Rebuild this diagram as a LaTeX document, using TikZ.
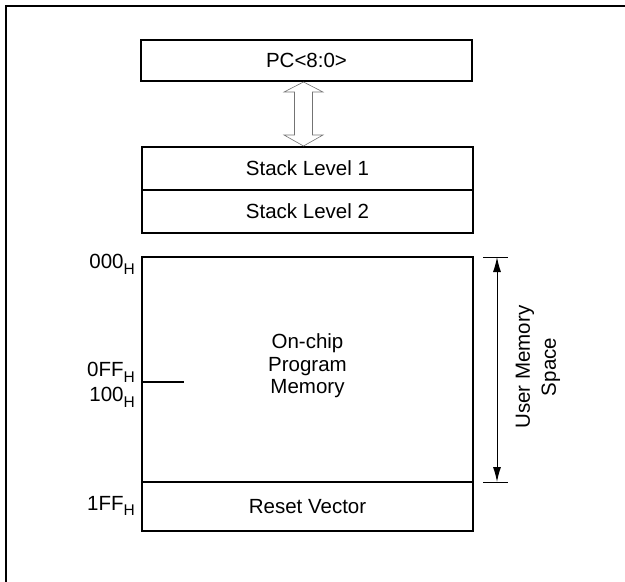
\documentclass[tikz,border=0pt]{standalone}
\usepackage{fontspec}
\setmainfont{Liberation Sans}
\usetikzlibrary{arrows.meta,positioning}
\newcommand{\hsub}{\raisebox{-0.28em}{\fontsize{15.5}{16}\selectfont H}}

\begin{document}
\begin{tikzpicture}[x=1pt,y=-1pt]

    \tikzset{
      membox/.style={
        draw,
        line width=2.2pt,
        minimum width=331pt,
        inner sep=0pt,
        outer sep=0pt,
        font=\fontsize{20.5}{22.5}\selectfont,
      },
      addr/.style={
        anchor=east,
        inner sep=0pt,
        font=\fontsize{20.5}{22.5}\selectfont,
      },
    }
    \useasboundingbox (0,0) rectangle (625,582);
    % outer frame (right and bottom edges fall outside)
	\draw[line width=1.3pt] (625,6)--(6,6)--(6,582);
	% program counter and stack
	\node[membox,minimum height=41pt] (pc) at (306.5,60.5) {PC<8:0>};
	\node[membox,minimum height=43pt] (stk1) at (307.5,168.5) {Stack Level 1};
	\node[membox,minimum height=43pt,below=0pt of stk1] (stk2) {Stack Level 2};
	% double arrow between pc and stack
	\coordinate (tipup) at (303.5,82);
	\coordinate (tipdn) at (303.5,146);
	\draw[color={black!55},line width=0.6pt] (tipup)--++(19.5,10)--++(-10.5,0)--++(0,43)--++(10.5,0)--(tipdn)
	   --++(-19.5,-11)--++(10.5,0)--++(0,-43)--++(-10.5,0)--cycle;
	% program memory
	\node[membox,minimum height=225pt] (mem) at (307.5,369.5) {};
	\node[membox,minimum height=49pt,below=0pt of mem] (rst) {Reset Vector};
	\node[align=center,inner sep=0pt,font=\fontsize{20.5}{22.5}\selectfont] (txt) at (307.5,366) {On-chip\\Program\\Memory};
	\coordinate (brk) at (142,382);
	\draw[line width=2pt] (brk)--++(42,0);
	\draw [color={black}] (135,264) node[addr] (a000) {000\hsub};
	\draw [color={black}] (135,372) node[addr] (a0ff) {0FF\hsub};
	\draw [color={black}] (135,397) node[addr] (a100) {100\hsub};
	\draw [color={black}] (135,506) node[addr] (a1ff) {1FF\hsub};
	% user memory span
	\coordinate (dtop) at (497,257);
	\coordinate (dbot) at (497,482);
	\draw[line width=1pt] (483,257)--(508,257);
	\draw[line width=1pt] (483,482)--(508,482);
	\draw[line width=1pt,{Latex[length=15pt,width=8pt]}-{Latex[length=15pt,width=8pt]}] (dtop)--(dbot);
	\node[rotate=90,align=center,inner sep=0pt,font=\fontsize{20.5}{26}\selectfont] (span) at (538,367) {User Memory\\Space};

\end{tikzpicture}
\end{document}
